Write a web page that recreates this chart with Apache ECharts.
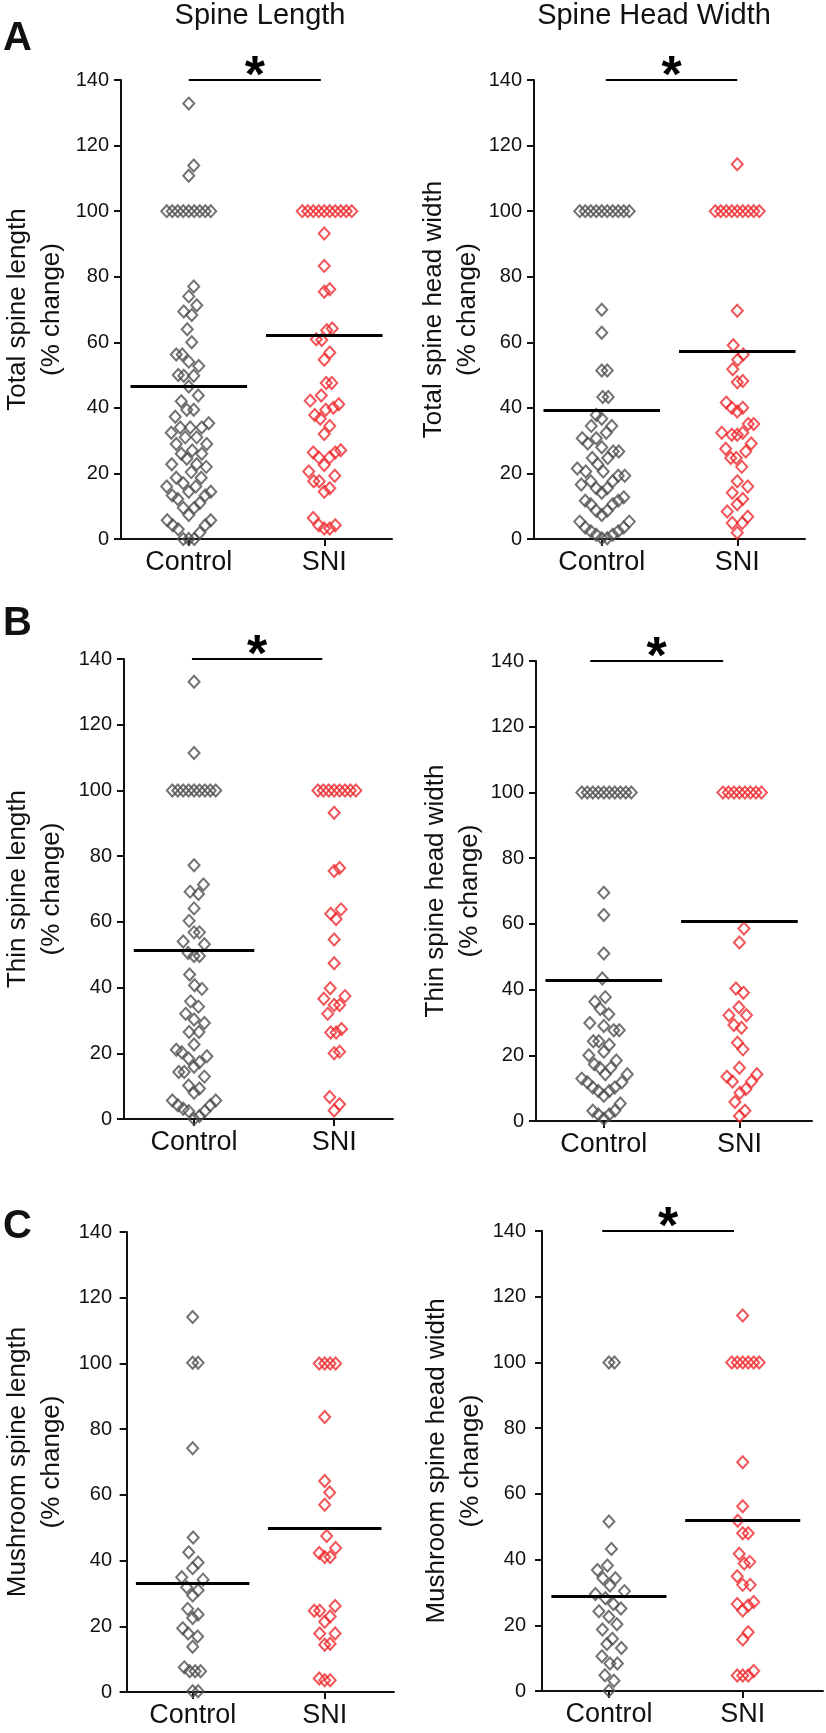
<!DOCTYPE html>
<html>
<head>
<meta charset="utf-8">
<script src="https://cdn.jsdelivr.net/npm/echarts@6/dist/echarts.min.js"></script>
<style>
  html, body { margin: 0; padding: 0; background: #fff; }
  #chart { width: 826px; height: 1733px; }
</style>
</head>
<body>
<div id="chart"></div>
<script>
// values (% change)
const totalLenControl = [132.8, 113.9, 110.8, 100, 100, 100, 100, 100, 100, 100, 100, 100, 77, 74, 71.3, 69.4, 68.3, 64, 60, 56.3, 56.3, 54.1, 52.8, 50, 49.8, 49.8, 46.5, 43.8, 42, 39.4, 39.4, 37.3, 35.3, 34, 34, 34, 32.4, 31, 31, 29, 29, 27, 26, 26, 24.5, 22.8, 22.8, 22, 20.4, 18.7, 18.7, 17, 16, 16, 14.4, 14.4, 13.3, 13.3, 12.2, 11, 9.5, 9.5, 7.3, 5.7, 5.7, 4.2, 4.2, 3, 1.9, 0, 0, 0]
const totalLenSNI = [100, 100, 100, 100, 100, 100, 100, 100, 100, 100, 93.2, 83.3, 76.2, 75.4, 64.2, 63.7, 60.9, 60.7, 56.9, 54.7, 47.6, 47.6, 43.8, 42.2, 41.1, 40, 39.4, 37.8, 36.7, 34.5, 32, 27.1, 26.4, 26.4, 24.9, 24.9, 22.6, 20.6, 19.3, 17.6, 17.6, 15.5, 14.4, 6.4, 4.2, 4.2, 3.2, 3.2]
const totalHeadControl = [100, 100, 100, 100, 100, 100, 100, 100, 100, 100, 69.9, 62.9, 51.4, 51.4, 43.3, 43.3, 37.8, 36.7, 34.5, 34.5, 32.4, 30.7, 30.7, 29.1, 28, 26.7, 26.7, 24.7, 24.7, 22.8, 21.5, 20.6, 20.6, 19.3, 19.3, 17.6, 17.6, 16.6, 15.5, 15.5, 14.1, 12.7, 11.7, 11.7, 10.6, 10.6, 8.6, 8.6, 7.3, 5.3, 5.3, 3.5, 3.5, 2.4, 2.4, 1.3, 1.3, 0.2, 0.2]
const totalHeadSNI = [114.3, 100, 100, 100, 100, 100, 100, 100, 100, 100, 69.6, 59.1, 56.3, 54.7, 51.8, 48.2, 47.8, 41.6, 40, 40, 38.9, 35.1, 35.1, 32.4, 32.4, 31.8, 31.8, 29.1, 27.5, 26.7, 24.7, 24.7, 22, 17.6, 16, 14.1, 12.2, 10.6, 8.4, 6.8, 4.9, 4.9, 1.9]
const thinLenControl = [133.1, 111.4, 100, 100, 100, 100, 100, 100, 100, 100, 100, 77.2, 71.4, 69.2, 68.5, 64.1, 60.3, 56.8, 56.8, 54, 53.2, 50.5, 49.6, 49.6, 44, 40.7, 39.6, 35.8, 34.2, 32, 30.3, 29.2, 26.5, 26.5, 22.7, 21.1, 20.3, 19.1, 18.4, 17.3, 15.9, 14.3, 14.3, 12.9, 10.2, 9.3, 8, 5.6, 5.6, 4.2, 4.2, 3.1, 2.4, 2.4, 0.9, 0]
const thinLenSNI = [100, 100, 100, 100, 100, 100, 100, 100, 93.2, 76.4, 75.5, 63.8, 62.5, 60.9, 54.6, 47.4, 39.8, 37.4, 36.6, 34.7, 34.7, 32, 27.4, 26.3, 26.3, 20.5, 20, 6.7, 4.5, 2.6]
const thinHeadControl = [100, 100, 100, 100, 100, 100, 100, 100, 100, 100, 69.5, 62.7, 51, 43.4, 37.7, 36.3, 34.1, 32.5, 29.8, 28.9, 27.6, 27.6, 24.3, 24.3, 23.2, 21.1, 20, 18.4, 17.3, 16.2, 16.2, 14.2, 14.2, 12.9, 11.8, 11.8, 10.2, 10.2, 9.1, 9.1, 7.7, 5.3, 3.1, 3.1, 2, 2, 0.7]
const thinHeadSNI = [100, 100, 100, 100, 100, 100, 100, 100, 58.6, 54.3, 40.3, 39, 34.6, 32.2, 32.2, 29.2, 28.4, 23.8, 21.8, 16.2, 14.2, 13.5, 12, 12, 9.7, 8.6, 5.8, 3.1, 1.5]
const mushLenControl = [114.1, 100.2, 100.2, 74.2, 47, 42.5, 39.4, 37.7, 34.9, 34.2, 31.9, 31, 29.4, 25.3, 23.6, 22.5, 19.4, 17.8, 16.9, 13.8, 7.5, 6.3, 6.3, 6.3, 0.2, 0.2]
const mushLenSNI = [100, 100, 100, 100, 83.7, 64.2, 60.7, 57, 47.5, 43.8, 42.3, 41.1, 41.1, 26.2, 24.7, 24.7, 23, 21.4, 17.8, 17.8, 14.7, 14.4, 4.1, 3.6, 3.6]
const mushHeadControl = [100, 100, 51.6, 43.2, 38.2, 36.8, 34.3, 34.3, 32.1, 30.4, 29.5, 28.2, 26.5, 25.1, 24.3, 22.6, 20.3, 18.7, 15.9, 14.3, 13.1, 10.6, 8.4, 8.4, 4.8, 3.1, 0.1]
const mushHeadSNI = [114.3, 100, 100, 100, 100, 100, 100, 69.6, 56.2, 51.8, 48, 48, 41.8, 39.3, 38.8, 34.9, 32.3, 32.3, 27.1, 26.5, 26, 24.5, 17.9, 15.7, 6.1, 4.7, 4.7, 4.7]

// group means [Control, SNI]
const totalLenMeans = [46.6, 62.0]
const totalHeadMeans = [39.4, 57.4]
const thinLenMeans = [51.4, 70.0]
const thinHeadMeans = [42.7, 60.8]
const mushLenMeans = [33.1, 49.9]
const mushHeadMeans = [28.8, 52.0]

// significance bar span (x units, Control = 1, SNI = 3), null = n.s.
const totalLenSig = [1.0, 2.95]
const totalHeadSig = [1.06, 3.0]
const thinLenSig = [0.97, 2.83]
const thinHeadSig = [0.8, 2.76]
const mushLenSig = null
const mushHeadSig = [0.9, 2.87]

const categories = ['Control', 'SNI']
const yTicks = [0, 140, 20]

const panels = [
    { yName: 'Total spine length\n(% change)', control: totalLenControl, sni: totalLenSNI, means: totalLenMeans, sig: totalLenSig },
    { yName: 'Total spine head width\n(% change)', control: totalHeadControl, sni: totalHeadSNI, means: totalHeadMeans, sig: totalHeadSig },
    { yName: 'Thin spine length\n(% change)', control: thinLenControl, sni: thinLenSNI, means: thinLenMeans, sig: thinLenSig },
    { yName: 'Thin spine head width\n(% change)', control: thinHeadControl, sni: thinHeadSNI, means: thinHeadMeans, sig: thinHeadSig },
    { yName: 'Mushroom spine length\n(% change)', control: mushLenControl, sni: mushLenSNI, means: mushLenMeans, sig: mushLenSig },
    { yName: 'Mushroom spine head width\n(% change)', control: mushHeadControl, sni: mushHeadSNI, means: mushHeadMeans, sig: mushHeadSig }
]

// grid boxes in px
const layout = [
    { left: 121, top: 80, width: 271, height: 459, xMin: 0, xMax: 4, gap: 52 },
    { left: 534, top: 80, width: 271, height: 459, xMin: 0, xMax: 4, gap: 44 },
    { left: 120, top: 659, width: 273, height: 460, xMin: 0, xMax: 3.84, gap: 55 },
    { left: 536, top: 661, width: 276, height: 460, xMin: 0, xMax: 4.07, gap: 46 },
    { left: 122, top: 1232, width: 272, height: 460, xMin: -0.04, xMax: 4.05, gap: 55 },
    { left: 538, top: 1231, width: 285, height: 460, xMin: -0.06, xMax: 4.2, gap: 50 }
]

const FONT = '"Liberation Sans", Arial, Helvetica, sans-serif'
const GRAY = '#4f4f4f'
const RED = '#ee2b2e'
const INK = '#111111'
const MEAN_HALF = 0.86
// swarm spacing (px): horizontal step, vertical reach
const SW_X = 5.5
const SW_Y = 22

// beeswarm with an elliptic keep-out zone, spreads close values sideways
function swarm( values, center, pxX, pxY ) {
    const order = values.map( ( v, i ) => i ).sort( ( a, b ) => values[ a ] - values[ b ] )
    const placed = []
    const out = []
    order.forEach( i => {
        const y = values[ i ] * pxY
        let off = 0
        for ( let k = 0; k < 600; k++ ) {
            const cand = k === 0 ? 0 : ( k % 2 ? 1 : -1 ) * Math.ceil( k / 2 ) * 0.5
            const ok = placed.every( p => {
                const dx = ( p[ 0 ] - cand ) / SW_X, dy = ( p[ 1 ] - y ) / SW_Y
                return dx * dx + dy * dy >= 1
            } )
            if ( ok ) {
                off = cand
                break
            }
        }
        placed.push( [ off, y ] )
        out.push( [ center + off / pxX, values[ i ] ] )
    } )
    return out
}

const grid = [], xAxis = [], yAxis = [], series = []

panels.forEach( ( p, i ) => {
    const L = layout[ i ]
    const pxX = L.width / ( L.xMax - L.xMin )
    const pxY = L.height / ( yTicks[ 1 ] - yTicks[ 0 ] )
    grid.push( { left: L.left, top: L.top, width: L.width, height: L.height } )
    xAxis.push( {
        gridIndex: i,
        type: 'value',
        min: L.xMin,
        max: L.xMax,
        splitLine: { show: false },
        axisLine: { show: true, onZero: false, lineStyle: { color: INK, width: 2 } },
        axisTick: { show: true, customValues: [ 1, 3 ], length: 7, lineStyle: { color: INK, width: 2 } },
        axisLabel: {
            customValues: [ 1, 3 ],
            formatter: v => v === 1 ? categories[ 0 ] : categories[ 1 ],
            fontFamily: FONT, fontSize: 27, color: INK, margin: 10
        }
    } )
    yAxis.push( {
        gridIndex: i,
        type: 'value',
        min: yTicks[ 0 ],
        max: yTicks[ 1 ],
        interval: yTicks[ 2 ],
        name: p.yName,
        nameLocation: 'middle',
        nameRotate: 90,
        nameGap: L.gap,
        nameTextStyle: { fontFamily: FONT, fontSize: 26, lineHeight: 34, color: INK },
        splitLine: { show: false },
        axisLine: { show: true, lineStyle: { color: INK, width: 2 } },
        axisTick: { show: true, length: 7, lineStyle: { color: INK, width: 2 } },
        axisLabel: { fontFamily: FONT, fontSize: 20, color: INK, margin: 12 }
    } )
    const groups = [ p.control, p.sni ]
    groups.forEach( ( vals, g ) => {
        const c = g === 0 ? 1 : 3
        const lines = [
            [ { coord: [ c - MEAN_HALF, p.means[ g ] ] }, { coord: [ c + MEAN_HALF, p.means[ g ] ] } ]
        ]
        if ( g === 1 && p.sig ) {
            lines.push( [
                { coord: [ p.sig[ 0 ], yTicks[ 1 ] ], lineStyle: { width: 2 } },
                { coord: [ p.sig[ 1 ], yTicks[ 1 ] ] }
            ] )
        }
        const s = {
            type: 'scatter',
            xAxisIndex: i,
            yAxisIndex: i,
            symbol: 'diamond',
            symbolSize: [ 11, 12 ],
            clip: false,
            silent: true,
            itemStyle: { color: 'rgba(0,0,0,0)', borderColor: g === 0 ? GRAY : RED, borderWidth: 2 },
            data: swarm( vals, c, pxX, pxY ),
            markLine: {
                silent: true,
                symbol: 'none',
                label: { show: false },
                lineStyle: { color: '#000', width: 3, type: 'solid' },
                data: lines
            }
        }
        if ( g === 1 && p.sig ) {
            s.markPoint = {
                silent: true,
                symbol: 'circle',
                symbolSize: 0,
                label: {
                    show: true, formatter: '*', color: '#000',
                    fontFamily: FONT, fontSize: 52, fontWeight: 'bold', offset: [ 0, -2 ]
                },
                data: [ { coord: [ ( p.sig[ 0 ] + p.sig[ 1 ] ) / 2, yTicks[ 1 ] ] } ]
            }
        }
        series.push( s )
    } )
} )

const headText = ( text, x, y, size, bold ) => ( {
    type: 'text',
    x, y,
    style: {
        text, fill: INK, fontFamily: FONT, fontSize: size,
        fontWeight: bold ? 'bold' : 'normal',
        align: bold ? 'left' : 'center', verticalAlign: 'middle'
    }
} )

const chart = echarts.init( document.getElementById( 'chart' ), null, { renderer: 'canvas' } )
chart.setOption( {
    animation: false,
    backgroundColor: '#fff',
    grid, xAxis, yAxis, series,
    graphic: [
        headText( 'Spine Length', 260, 16, 29 ),
        headText( 'Spine Head Width', 654, 16, 29 ),
        headText( 'A', 3, 39, 40, true ),
        headText( 'B', 3, 624, 40, true ),
        headText( 'C', 3, 1227, 40, true )
    ]
} )
</script>
</body>
</html>
